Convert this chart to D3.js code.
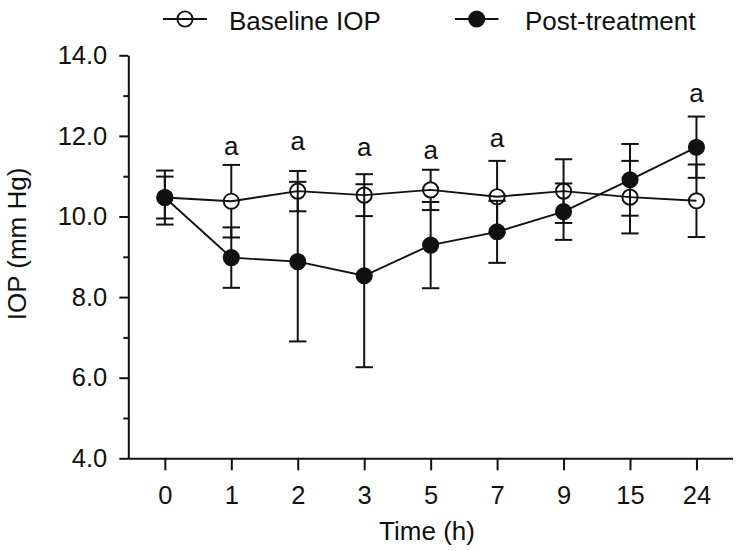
<!DOCTYPE html>
<html>
<head>
<meta charset="utf-8">
<script src="https://cdn.jsdelivr.net/npm/d3@7"></script>
<style>
  html, body { margin: 0; padding: 0; background: #fff; }
  svg { display: block; font-family: "Liberation Sans", Arial, sans-serif; }
</style>
</head>
<body>
<svg id="chart" width="739" height="551"></svg>
<script>
// ---- data ----
const times = ["0", "1", "2", "3", "5", "7", "9", "15", "24"];
const baselineMean = [10.47, 10.38, 10.63, 10.53, 10.66, 10.49, 10.63, 10.48, 10.39];
const baselineSD   = [0.67, 0.90, 0.50, 0.52, 0.50, 0.89, 0.79, 0.90, 0.90];
const postMean     = [10.47, 8.98, 8.88, 8.53, 9.29, 9.62, 10.12, 10.91, 11.72];
const postSD       = [0.52, 0.75, 1.98, 2.27, 1.07, 0.77, 0.70, 0.89, 0.76];
const sigTimes     = ["1", "2", "3", "5", "7", "24"];
const sigLabelY    = [11.69, 11.82, 11.67, 11.61, 11.90, 13.02];
const yMajorTicks  = [4, 6, 8, 10, 12, 14];
const yMinorTicks  = [5, 7, 9, 11, 13];
const seriesNames  = ["Baseline IOP", "Post-treatment"];

// ---- layout ----
const svg = d3.select("#chart");
const xLeft = 128.3, xRight = 733;
const yTop = 55.3, yBottom = 458.3;

const x = d3.scalePoint().domain(times).range([xLeft, xRight]).padding(0.55);
const y = d3.scaleLinear().domain([4, 14]).range([yBottom, yTop]);

const R = 7.6;       // marker radius
const CAP = 8.7;     // half width of error caps
const ink = "#111";

// ---- axes ----
const yAxis = svg.append("g").attr("transform", `translate(${xLeft},0)`)
  .call(d3.axisLeft(y).tickValues(yMajorTicks).tickFormat(d3.format(".1f"))
        .tickSize(9).tickSizeOuter(0).tickPadding(12));
const yMinor = svg.append("g").attr("transform", `translate(${xLeft},0)`)
  .call(d3.axisLeft(y).tickValues(yMinorTicks).tickFormat("").tickSize(5));
yMinor.select(".domain").remove();

const xAxis = svg.append("g").attr("transform", `translate(0,${yBottom})`)
  .call(d3.axisBottom(x).tickSize(12).tickSizeOuter(0).tickPadding(16));
xAxis.select(".domain").attr("d", `M${xLeft},0.5H${xRight}`);

svg.selectAll(".tick line, .domain").attr("stroke", ink).attr("stroke-width", 2);
svg.selectAll(".tick text").attr("fill", ink).attr("font-size", 25.5)
   .attr("font-family", "Liberation Sans, Arial, sans-serif");

// axis titles
svg.append("text").attr("x", 427).attr("y", 540).attr("text-anchor", "middle")
  .attr("font-size", 26).attr("fill", ink).text("Time (h)");
svg.append("text").attr("transform", "rotate(-90)").attr("x", -244).attr("y", 26)
  .attr("text-anchor", "middle").attr("font-size", 26).attr("fill", ink).text("IOP (mm Hg)");

// ---- series ----
const baseData = times.map((t, i) => ({ t, m: baselineMean[i], s: baselineSD[i] }));
const postData = times.map((t, i) => ({ t, m: postMean[i], s: postSD[i] }));

const line = d3.line().x(d => x(d.t)).y(d => y(d.m));

function drawSeries(data, filled) {
  const g = svg.append("g");
  g.append("path").datum(data).attr("d", line)
    .attr("fill", "none").attr("stroke", ink).attr("stroke-width", 1.9);

  const eb = g.selectAll(".eb").data(data).join("g");
  // vertical bars (outside the marker)
  eb.append("line")
    .attr("x1", d => x(d.t)).attr("x2", d => x(d.t))
    .attr("y1", d => y(d.m + d.s)).attr("y2", d => y(d.m) - R)
    .attr("stroke", ink).attr("stroke-width", 2);
  eb.append("line")
    .attr("x1", d => x(d.t)).attr("x2", d => x(d.t))
    .attr("y1", d => y(d.m) + R).attr("y2", d => y(d.m - d.s))
    .attr("stroke", ink).attr("stroke-width", 2);
  // caps
  [1, -1].forEach(sign => {
    eb.append("line")
      .attr("x1", d => x(d.t) - CAP).attr("x2", d => x(d.t) + CAP)
      .attr("y1", d => y(d.m + sign * d.s)).attr("y2", d => y(d.m + sign * d.s))
      .attr("stroke", ink).attr("stroke-width", 2);
  });

  g.selectAll("circle").data(data).join("circle")
    .attr("cx", d => x(d.t)).attr("cy", d => y(d.m)).attr("r", R)
    .attr("fill", filled ? ink : "none")
    .attr("stroke", ink).attr("stroke-width", 1.9);
}
drawSeries(baseData, false);
drawSeries(postData, true);

// significance labels
svg.append("g").selectAll("text").data(sigTimes.map((t, i) => ({ t, v: sigLabelY[i] })))
  .join("text")
  .attr("x", d => x(d.t)).attr("y", d => y(d.v) + 7)
  .attr("text-anchor", "middle").attr("font-size", 26).attr("fill", ink).text("a");

// ---- legend ----
const legend = [
  { name: seriesNames[0], filled: false, cx: 185, x0: 163, x1: 207, tx: 229 },
  { name: seriesNames[1], filled: true,  cx: 476.7, x0: 455, x1: 498.5, tx: 525 }
];
const lg = svg.append("g");
legend.forEach(l => {
  lg.append("line").attr("x1", l.x0).attr("x2", l.x1).attr("y1", 19).attr("y2", 19)
    .attr("stroke", ink).attr("stroke-width", 1.9);
  lg.append("circle").attr("cx", l.cx).attr("cy", 19).attr("r", R)
    .attr("fill", l.filled ? ink : "none").attr("stroke", ink).attr("stroke-width", 1.9);
  lg.append("text").attr("x", l.tx).attr("y", 29.5).attr("font-size", 26)
    .attr("fill", ink).text(l.name);
});
</script>
</body>
</html>
